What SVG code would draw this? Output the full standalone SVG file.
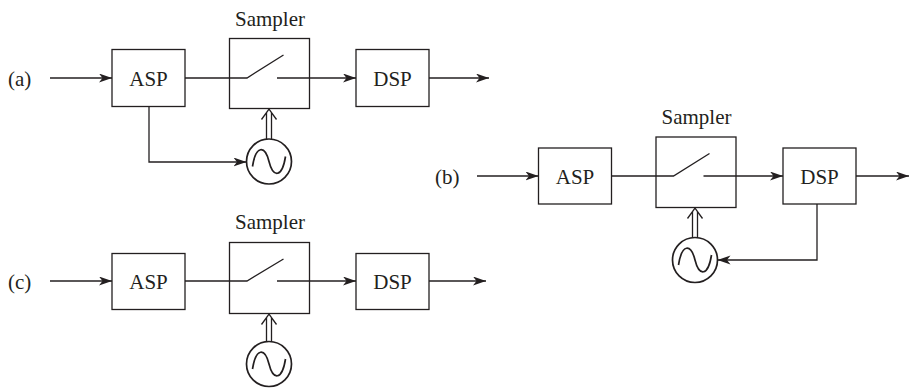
<svg xmlns="http://www.w3.org/2000/svg" width="910" height="388" viewBox="0 0 910 388">
<style>
.box{fill:none;stroke:#231f20;stroke-width:1.3}
.ln{fill:none;stroke:#231f20;stroke-width:1.3}
.arr{fill:none;stroke:#231f20;stroke-width:1.3;marker-end:url(#ah)}
.osc{fill:none;stroke:#231f20;stroke-width:1.7}
text{font-family:'Liberation Serif','Times New Roman',serif;font-size:21px;fill:#231f20}
.c{text-anchor:middle}
</style>
<defs>
<marker id="ah" markerUnits="userSpaceOnUse" markerWidth="14" markerHeight="10" refX="13" refY="4.5" orient="auto">
<path d="M0,0 L13,4.5 L0,9 L3.5,4.5 Z" fill="#231f20"/>
</marker>
<g id="oscshape">
<circle cx="0" cy="0" r="22.5" class="osc"/>
<path d="M-16.5,5 C-13,-17 -4,-16 0,0 C4,16 13,17 16.5,-5" class="osc"/>
</g>
</defs>

<g id="labels">
<text x="8" y="86">(a)</text>
<text x="435" y="184">(b)</text>
<text x="8" y="289">(c)</text>
</g>

<!-- (a) -->
<g id="a-asp"><rect class="box" x="112" y="49.5" width="73" height="57"/><text class="c" x="148.5" y="86">ASP</text></g>
<g id="a-sampler"><rect class="box" x="229.5" y="38.5" width="80" height="70"/><text class="c" x="270" y="26">Sampler</text></g>
<g id="a-dsp"><rect class="box" x="356" y="49.5" width="73" height="57"/><text class="c" x="392.5" y="86">DSP</text></g>
<g id="a-osc"><use href="#oscshape" transform="translate(269,161.5)"/></g>

<!-- (b) -->
<g id="b-asp"><rect class="box" x="538.5" y="148" width="73" height="56"/><text class="c" x="575" y="184">ASP</text></g>
<g id="b-sampler"><rect class="box" x="656" y="137" width="80" height="70.5"/><text class="c" x="696.5" y="124">Sampler</text></g>
<g id="b-dsp"><rect class="box" x="783" y="148" width="73" height="56"/><text class="c" x="819.5" y="184">DSP</text></g>
<g id="b-osc"><use href="#oscshape" transform="translate(695,260)"/></g>

<!-- (c) -->
<g id="c-asp"><rect class="box" x="112" y="253.5" width="73" height="56"/><text class="c" x="148.5" y="289">ASP</text></g>
<g id="c-sampler"><rect class="box" x="229.5" y="242.5" width="80" height="71"/><text class="c" x="270" y="229">Sampler</text></g>
<g id="c-dsp"><rect class="box" x="356" y="253.5" width="73" height="56"/><text class="c" x="392.5" y="289">DSP</text></g>
<g id="c-osc"><use href="#oscshape" transform="translate(269,364)"/></g>

<g id="connectors">
<!-- (a) -->
<path class="arr" d="M50,78 H112"/>
<path class="ln" d="M185,78 H247 L283.5,55"/>
<path class="arr" d="M277,78 H356"/>
<path class="arr" d="M429,78 H489"/>
<path class="arr" d="M149,106.5 V162 H246.5"/>
<path class="ln" d="M266.5,139 V113 M271.5,139 V113 M261.5,119.5 L269,109 L276.5,119.5"/>
<!-- (b) -->
<path class="arr" d="M477,176 H538.5"/>
<path class="ln" d="M611.5,176 H673.5 L709.5,153.5"/>
<path class="arr" d="M703.5,176 H783"/>
<path class="arr" d="M856,176 H909"/>
<path class="arr" d="M817,204 V260 H717.5"/>
<path class="ln" d="M692.5,237.5 V212 M697.5,237.5 V212 M687.5,218.5 L695,208 L702.5,218.5"/>
<!-- (c) -->
<path class="arr" d="M50,281 H112"/>
<path class="ln" d="M185,281 H247 L283.5,259"/>
<path class="arr" d="M277,281 H356"/>
<path class="arr" d="M429,281 H486"/>
<path class="ln" d="M266.5,341.5 V318 M271.5,341.5 V318 M261.5,324.5 L269,314 L276.5,324.5"/>
</g>
</svg>
